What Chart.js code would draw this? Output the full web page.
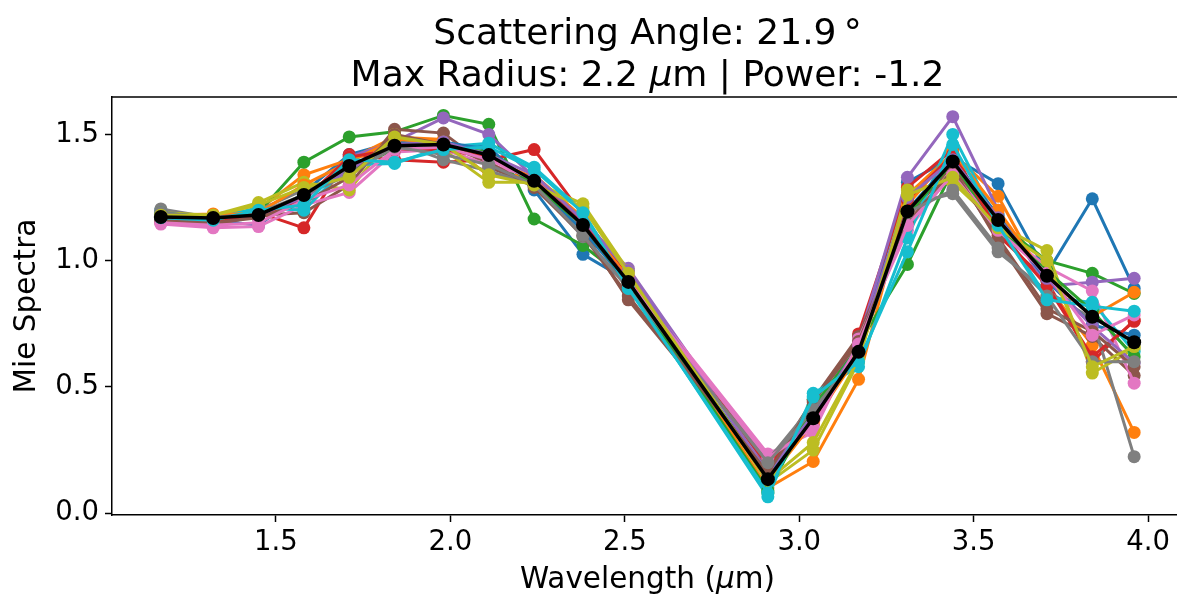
<!DOCTYPE html>
<html>
<head>
<meta charset="utf-8">
<script src="https://cdn.jsdelivr.net/npm/chart.js@4.4.0/dist/chart.umd.min.js"></script>
<style>
  html, body { margin: 0; padding: 0; background: #fff; overflow: hidden; }
  #wrap { width: 1177px; height: 597px; overflow: hidden; }
</style>
</head>
<body>
<div id="wrap"><canvas id="mie" width="1190" height="597"></canvas></div>
<script>
// wavelength grid (um)
const wavelengths = [1.17, 1.32, 1.45, 1.58, 1.71, 1.84, 1.98, 2.11, 2.24, 2.38, 2.51, 2.91, 3.04, 3.17, 3.31, 3.44, 3.57, 3.71, 3.84, 3.96];

// individual mie spectra
const run01 = [1.20, 1.16, 1.14, 1.27, 1.42, 1.47, 1.46, 1.45, 1.28, 1.025, 0.92, 0.15, 0.40, 0.66, 1.31, 1.41, 1.305, 0.95, 1.245, 0.89];
const run02 = [1.18, 1.185, 1.20, 1.34, 1.40, 1.49, 1.48, 1.335, 1.34, 1.17, 0.94, 0.10, 0.205, 0.53, 1.26, 1.425, 1.255, 0.90, 0.665, 0.32];
const run03 = [1.17, 1.17, 1.19, 1.39, 1.49, 1.51, 1.575, 1.54, 1.165, 1.06, 0.92, 0.08, 0.45, 0.67, 0.985, 1.36, 1.15, 1.00, 0.95, 0.87];
const run04 = [1.16, 1.165, 1.19, 1.13, 1.42, 1.40, 1.39, 1.40, 1.44, 1.18, 0.93, 0.20, 0.35, 0.71, 1.29, 1.44, 1.10, 0.92, 0.60, 0.765];
const run05 = [1.16, 1.16, 1.17, 1.24, 1.41, 1.47, 1.565, 1.50, 1.33, 1.16, 0.97, 0.18, 0.40, 0.68, 1.33, 1.57, 1.20, 0.90, 0.915, 0.93];
const run06 = [1.15, 1.14, 1.18, 1.19, 1.30, 1.52, 1.505, 1.37, 1.30, 1.12, 0.845, 0.17, 0.45, 0.70, 1.17, 1.38, 1.075, 0.79, 0.70, 0.545];
const run07 = [1.145, 1.13, 1.135, 1.22, 1.27, 1.43, 1.44, 1.38, 1.33, 1.15, 0.93, 0.235, 0.32, 0.69, 1.12, 1.35, 1.13, 0.975, 0.88, 0.515];
const run08 = [1.205, 1.17, 1.20, 1.28, 1.35, 1.47, 1.40, 1.355, 1.30, 1.095, 0.90, 0.21, 0.43, 0.62, 1.22, 1.265, 1.035, 0.88, 0.77, 0.224];
const run09 = [1.19, 1.18, 1.23, 1.31, 1.28, 1.50, 1.44, 1.31, 1.31, 1.225, 0.96, 0.12, 0.25, 0.60, 1.28, 1.31, 1.14, 1.04, 0.555, 0.65];
const run10 = [1.17, 1.165, 1.21, 1.20, 1.38, 1.385, 1.45, 1.465, 1.37, 1.195, 0.90, 0.065, 0.475, 0.58, 1.09, 1.50, 1.15, 0.855, 0.835, 0.64];
const run11 = [1.19, 1.17, 1.17, 1.25, 1.37, 1.45, 1.47, 1.44, 1.30, 1.12, 0.91, 0.14, 0.38, 0.64, 1.20, 1.40, 1.18, 0.92, 0.745, 0.705];
const run12 = [1.17, 1.18, 1.19, 1.30, 1.39, 1.48, 1.47, 1.40, 1.33, 1.16, 0.93, 0.13, 0.36, 0.63, 1.22, 1.43, 1.20, 0.93, 0.78, 0.875];
const run13 = [1.18, 1.17, 1.18, 1.26, 1.36, 1.44, 1.45, 1.43, 1.30, 1.14, 0.91, 0.09, 0.42, 0.66, 1.18, 1.39, 1.13, 0.96, 0.80, 0.62];
const run14 = [1.17, 1.16, 1.17, 1.24, 1.41, 1.44, 1.44, 1.41, 1.32, 1.15, 0.92, 0.19, 0.37, 0.65, 1.24, 1.42, 1.12, 0.90, 0.62, 0.76];
const run15 = [1.17, 1.17, 1.18, 1.25, 1.36, 1.46, 1.47, 1.42, 1.34, 1.16, 0.96, 0.16, 0.39, 0.66, 1.25, 1.40, 1.17, 0.93, 0.74, 0.595];
const run16 = [1.16, 1.15, 1.17, 1.23, 1.33, 1.50, 1.46, 1.39, 1.29, 1.10, 0.86, 0.16, 0.44, 0.68, 1.15, 1.36, 1.09, 0.81, 0.72, 0.58];
const run17 = [1.15, 1.14, 1.15, 1.24, 1.30, 1.44, 1.45, 1.40, 1.32, 1.14, 0.92, 0.22, 0.34, 0.67, 1.14, 1.34, 1.12, 0.95, 0.705, 0.785];
const run18 = [1.19, 1.17, 1.19, 1.26, 1.34, 1.45, 1.42, 1.38, 1.30, 1.10, 0.89, 0.20, 0.41, 0.63, 1.19, 1.28, 1.05, 0.86, 0.60, 0.60];
const run19 = [1.18, 1.18, 1.22, 1.29, 1.33, 1.49, 1.46, 1.34, 1.30, 1.21, 0.95, 0.13, 0.28, 0.61, 1.26, 1.33, 1.13, 1.00, 0.58, 0.66];
const run20 = [1.17, 1.16, 1.20, 1.22, 1.40, 1.39, 1.44, 1.45, 1.36, 1.19, 0.89, 0.08, 0.46, 0.60, 1.035, 1.46, 1.14, 0.845, 0.82, 0.80];

// averaged spectrum (black)
const meanSpectrum = [1.173, 1.169, 1.181, 1.260, 1.375, 1.455, 1.460, 1.418, 1.316, 1.141, 0.916, 0.135, 0.376, 0.639, 1.195, 1.393, 1.161, 0.940, 0.778, 0.677];

const xTicks = [1.5, 2.0, 2.5, 3.0, 3.5, 4.0];
const yTicks = [0.0, 0.5, 1.0, 1.5];

const runs = [run01, run02, run03, run04, run05, run06, run07, run08, run09, run10,
              run11, run12, run13, run14, run15, run16, run17, run18, run19, run20];
const tab10 = ['#1f77b4', '#ff7f0e', '#2ca02c', '#d62728', '#9467bd',
               '#8c564b', '#e377c2', '#7f7f7f', '#bcbd22', '#17becf'];

const FONT = "'DejaVu Sans', sans-serif";

function toPoints(vals) {
    return wavelengths.map((x, i) => ({ x: x, y: vals[i] }));
}

// later runs sit on top of earlier ones, the mean on top of everything
const datasets = runs.map((r, i) => ({
    data: toPoints(r),
    borderColor: tab10[i % 10],
    backgroundColor: tab10[i % 10],
    borderWidth: 3,
    pointRadius: 6.5,
    pointBorderWidth: 0,
    showLine: true,
    order: 100 - i
}));
datasets.push({
    data: toPoints(meanSpectrum),
    borderColor: '#000',
    backgroundColor: '#000',
    borderWidth: 3.5,
    pointRadius: 7,
    pointBorderWidth: 0,
    showLine: true,
    order: 0
});

// draws text pieces one after another, e.g. for an italic mu
function drawRuns(ctx, pieces, cx, y, size) {
    let total = 0;
    pieces.forEach(p => {
        ctx.font = (p.italic ? 'italic ' : '') + size + 'px ' + FONT;
        p.w = ctx.measureText(p.t).width;
        total += p.w;
    });
    let x = cx - total / 2;
    pieces.forEach(p => {
        ctx.font = (p.italic ? 'italic ' : '') + size + 'px ' + FONT;
        ctx.fillText(p.t, x, y);
        x += p.w;
    });
}

const decorations = {
    id: 'decorations',
    afterDraw(chart) {
        const ctx = chart.ctx;
        const a = chart.chartArea;
        ctx.save();
        // top and right spines
        ctx.strokeStyle = '#000';
        ctx.lineWidth = 1.5;
        ctx.beginPath();
        ctx.moveTo(a.left, a.top);
        ctx.lineTo(a.right, a.top);
        ctx.lineTo(a.right, a.bottom);
        ctx.stroke();

        ctx.fillStyle = '#000';
        ctx.textAlign = 'left';
        ctx.textBaseline = 'alphabetic';
        const cx = (a.left + a.right) / 2;
        drawRuns(ctx, [{ t: 'Scattering Angle: 21.9\u2009\u00b0' }], cx, 44, 36);
        drawRuns(ctx, [{ t: 'Max Radius: 2.2 ' }, { t: '\u03bc', italic: true }, { t: 'm | Power: -1.2' }], cx, 86, 36);

        // x axis label
        drawRuns(ctx, [{ t: 'Wavelength (' }, { t: '\u03bc', italic: true }, { t: 'm)' }], cx, 588, 29.5);

        // y axis label
        ctx.translate(35, (a.top + a.bottom) / 2);
        ctx.rotate(-Math.PI / 2);
        drawRuns(ctx, [{ t: 'Mie Spectra' }], 0, 0, 29.5);
        ctx.restore();
    }
};

new Chart(document.getElementById('mie'), {
    type: 'scatter',
    data: { datasets: datasets },
    options: {
        responsive: false,
        animation: false,
        devicePixelRatio: 1,
        layout: { padding: { top: 97, right: 3, left: 0, bottom: 0 } },
        plugins: {
            legend: { display: false },
            tooltip: { enabled: false },
            title: { display: false }
        },
        scales: {
            x: {
                type: 'linear',
                min: 1.03,
                max: 4.10,
                afterBuildTicks: axis => { axis.ticks = xTicks.map(v => ({ value: v })); },
                afterFit: scale => { scale.height = 82; },
                border: { display: true, color: '#000', width: 1.5 },
                grid: { drawOnChartArea: false, drawTicks: true, tickLength: 7, tickWidth: 1.5, color: '#000' },
                ticks: {
                    color: '#000',
                    padding: 4,
                    font: { family: FONT, size: 27.5 },
                    callback: v => v.toFixed(1)
                }
            },
            y: {
                type: 'linear',
                min: -0.007,
                max: 1.648,
                afterBuildTicks: axis => { axis.ticks = yTicks.map(v => ({ value: v })); },
                afterFit: scale => { scale.width = 112; },
                border: { display: true, color: '#000', width: 1.5 },
                grid: { drawOnChartArea: false, drawTicks: true, tickLength: 7, tickWidth: 1.5, color: '#000' },
                ticks: {
                    color: '#000',
                    padding: 6,
                    font: { family: FONT, size: 27.5 },
                    callback: v => v.toFixed(1)
                }
            }
        }
    },
    plugins: [decorations]
});
</script>
</body>
</html>
